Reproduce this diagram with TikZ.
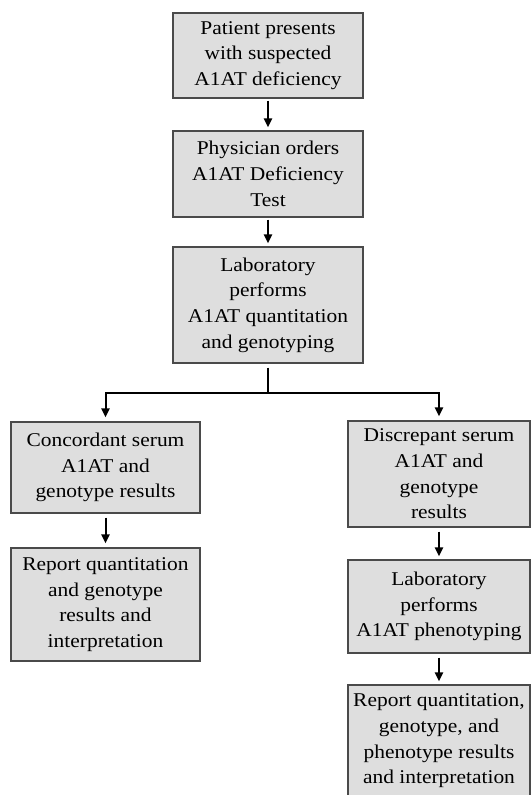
\documentclass[tikz,border=0pt]{standalone}
\usepackage{fontspec}
\setmainfont{Liberation Serif}[FakeStretch=1.1]
\usetikzlibrary{arrows.meta}
\definecolor{boxfill}{HTML}{DEDEDE}
\definecolor{boxline}{HTML}{4A4A4A}
\tikzset{
  flowbox/.style={draw=boxline, line width=1.2pt, fill=boxfill, align=center,
    inner sep=0pt, font=\fontsize{19.5}{25.7}\selectfont},
  flowline/.style={line width=2pt, draw=black},
  flowarrow/.style={flowline, -{Triangle[length=9pt,width=8pt]}}
}
\begin{document}
\begin{tikzpicture}[x=1pt,y=-1pt]
\useasboundingbox (0,0) rectangle (532,795);
\clip (0,0) rectangle (532,795);
\node[flowbox, minimum width=190pt, minimum height=85pt] (b1) at (268,55.5)
  {Patient presents\\with suspected\\A1AT deficiency};
\node[flowbox, minimum width=190pt, minimum height=86pt] (b2) at (268,174)
  {Physician orders\\A1AT Deficiency\\Test};
\node[flowbox, minimum width=190pt, minimum height=116pt] (b3) at (268,305)
  {Laboratory\\performs\\A1AT quantitation\\and genotyping};
\node[flowbox, minimum width=189pt, minimum height=91pt] (b4) at (105.5,467.5)
  {Concordant serum\\A1AT and\\genotype results};
\node[flowbox, minimum width=189pt, minimum height=113pt] (b6) at (105.5,604.5)
  {Report quantitation\\and genotype\\results and\\interpretation};
\node[flowbox, minimum width=182pt, minimum height=106pt] (b5) at (439,474)
  {Discrepant serum\\A1AT and\\genotype\\results};
\node[flowbox, minimum width=182pt, minimum height=93pt] (b7) at (439,606.5)
  {Laboratory\\performs\\A1AT phenotyping};
\node[flowbox, minimum width=182pt, minimum height=112pt] (b8) at (439,741)
  {Report quantitation,\\genotype, and\\phenotype results\\and interpretation};
\coordinate (split) at (268,393);
\draw[flowarrow, shorten <=2pt, shorten >=3pt] (b1) -- (b2);
\draw[flowarrow, shorten <=2pt, shorten >=3pt] (b2) -- (b3);
\draw[flowline, shorten <=4pt] (b3.south) -- (split);
\draw[flowarrow, shorten >=4pt] (split) -| (b4);
\draw[flowarrow, shorten >=4pt] (split) -| (b5);
\draw[flowarrow, shorten <=4pt, shorten >=4pt] (b4) -- (b6);
\draw[flowarrow, shorten <=4pt, shorten >=3pt] (b5) -- (b7);
\draw[flowarrow, shorten <=4pt, shorten >=3pt] (b7) -- (b8);
\end{tikzpicture}
\end{document}
